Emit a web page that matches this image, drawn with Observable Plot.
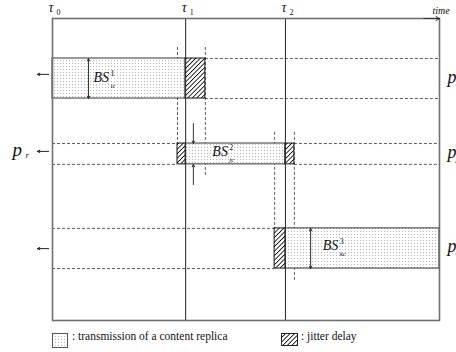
<!DOCTYPE html>
<html>
<head>
<meta charset="utf-8">
<script src="https://cdn.jsdelivr.net/npm/d3@7"></script>
<script src="https://cdn.jsdelivr.net/npm/@observablehq/plot@0.6"></script>
<style>
  body { margin: 0; background: #fff; overflow: hidden; }
  #wrap { position: relative; width: 456px; height: 352px; font-family: "Liberation Serif", "Times New Roman", serif; color: #111; }
  .sw { position: absolute; top: 333px; }
  .lt { position: absolute; top: 331px; font-size: 11.5px; line-height: 1; white-space: nowrap; }
</style>
</head>
<body>
<svg width="0" height="0" style="position:absolute">
  <defs>
    <pattern id="dots" width="3" height="3" patternUnits="userSpaceOnUse">
      <rect width="3" height="3" fill="#fff"/>
      <rect width="1" height="1" fill="#b4b4b4"/>
    </pattern>
    <pattern id="hatch" width="3.2" height="3.2" patternUnits="userSpaceOnUse" patternTransform="rotate(45)">
      <rect width="3.2" height="3.2" fill="#fff"/>
      <line x1="0" y1="0" x2="0" y2="3.2" stroke="#000" stroke-width="1.6"/>
    </pattern>
  </defs>
</svg>
<div id="wrap">
  <svg class="sw" style="left:52px" width="16" height="15"><rect x="0.5" y="0.5" width="15" height="14" fill="url(#dots)" stroke="#555"/></svg>
  <div class="lt" style="left:72px">: transmission of a content replica</div>
  <svg class="sw" style="left:281px" width="17" height="13"><rect x="0.5" y="0.5" width="16" height="12" fill="url(#hatch)" stroke="#222"/></svg>
  <div class="lt" style="left:301px">: jitter delay</div>
</div>
<script>
// Time axis: 0–100 across the frame; rows: 0–100 down the frame.
const tauTimes = [0, 34.4, 60.2];
const tauNames = ["0", "1", "2"];

// Three delivery paths (one band per row)
const rowTop = [13.25, 41.4, 69.5];
const rowBottom = [26.5, 48.3, 82.8];
const rowArrowY = [18.5, 44.0, 76.2];
const peerSup = ["1", "2", "3"];
const peerSub = ["i", "j", "k"];

// Transmission of a content replica on each path
const txStart = [0, 34.4, 60.2];
const txEnd = [34.4, 60.2, 100];

// Jitter delay intervals
const jitRow = [0, 1, 1, 2];
const jitStart = [34.4, 32.3, 60.2, 57.4];
const jitEnd = [39.5, 34.4, 62.5, 60.2];

// Dashed horizontal guides that continue each band
const guideRow = [0, 1, 1, 2];
const guideStart = [39.5, 0, 62.5, 0];
const guideEnd = [100, 32.3, 100, 57.4];

// Dashed vertical guides bounding the jitter windows
const vGuideX = [32.3, 39.5, 57.4, 62.5];
const vGuideTop = [9.6, 9.6, 37.7, 37.7];
const vGuideBottom = [41.4, 52.6, 69.5, 87.1];

// Buffer-size arrows and labels
const sizeArrowX = [9.3, 9.3, 36.4, 36.4, 66.7, 66.7];
const sizeArrowFrom = [19.9, 19.9, 34.8, 55.0, 76.2, 76.2];
const sizeArrowTo = [13.25, 26.5, 41.4, 48.3, 69.5, 82.8];
const bsLabelX = [10.6, 41.3, 69.8];
const bsLabelY = [20.9, 45.4, 76.8];
const bsSup = ["1", "2", "3"];
const bsSub = ["ic", "jc", "kc"];

const serif = "Liberation Serif";

const tx = txStart.map((s, i) => ({x1: s, x2: txEnd[i], y1: rowTop[i], y2: rowBottom[i]}));
const jit = jitRow.map((r, i) => ({x1: jitStart[i], x2: jitEnd[i], y1: rowTop[r], y2: rowBottom[r]}));
const hGuides = guideRow.flatMap((r, i) => [rowTop[r], rowBottom[r]].map(y => ({y, x1: guideStart[i], x2: guideEnd[i]})));
const vGuides = vGuideX.map((x, i) => ({x, y1: vGuideTop[i], y2: vGuideBottom[i]}));
const sizeArrows = sizeArrowX.map((x, i) => ({x, y1: sizeArrowFrom[i], y2: sizeArrowTo[i]}));
const bs = bsLabelX.map((x, i) => ({x, y: bsLabelY[i], sup: bsSup[i], sub: bsSub[i]}));
const taus = tauTimes.map((t, i) => ({t, name: tauNames[i]}));
const peers = rowArrowY.map((y, i) => ({y, c: (rowTop[i] + rowBottom[i]) / 2, sup: peerSup[i], sub: peerSub[i]}));

const chart = Plot.plot({
  width: 456,
  height: 326,
  marginLeft: 52,
  marginRight: 17,
  marginTop: 18,
  marginBottom: 6,
  x: {domain: [0, 100], axis: null},
  y: {domain: [0, 100], reverse: true, axis: null},
  marks: [
    Plot.ruleY(hGuides, {y: "y", x1: "x1", x2: "x2", stroke: "#333", strokeWidth: 0.8, strokeDasharray: "3,2"}),
    Plot.ruleX(vGuides, {x: "x", y1: "y1", y2: "y2", stroke: "#333", strokeWidth: 0.8, strokeDasharray: "3,2"}),
    Plot.rect(tx, {x1: "x1", x2: "x2", y1: "y1", y2: "y2", fill: "url(#dots)", stroke: "#333", strokeWidth: 1}),
    Plot.rect(jit, {x1: "x1", x2: "x2", y1: "y1", y2: "y2", fill: "url(#hatch)", stroke: "#111", strokeWidth: 1}),
    Plot.ruleX(tauTimes.slice(1), {stroke: "#333", strokeWidth: 1.1}),
    Plot.frame({stroke: "#707070", strokeWidth: 1.6}),
    // time direction
    Plot.arrow([0], {x1: 96, x2: 100, y1: 0, y2: 0, stroke: "#333", strokeWidth: 1, headLength: 6}),
    Plot.text(["time"], {x: 100, y: 0, dx: -7, dy: -5, text: d => d, textAnchor: "start", lineAnchor: "bottom", fontSize: 10, fontStyle: "italic", fontFamily: serif}),
    // epoch labels
    Plot.text(taus, {x: "t", y: 0, text: () => "τ", dx: -4, dy: -7, textAnchor: "start", lineAnchor: "bottom", fontSize: 14, fontStyle: "italic", fontFamily: serif}),
    Plot.text(taus, {x: "t", y: 0, text: "name", dx: 4, dy: -4, textAnchor: "start", lineAnchor: "bottom", fontSize: 8, fontFamily: serif}),
    // request arrows from the receiver
    Plot.arrow(peers, {x1: -1, x2: -3.9, y1: "y", y2: "y", stroke: "#222", strokeWidth: 1, headLength: 4, headAngle: 50}),
    Plot.text(["p"], {x: 0, y: rowArrowY[1], dx: -40, dy: 5, text: d => d, textAnchor: "start", lineAnchor: "bottom", fontSize: 19, fontStyle: "italic", fontFamily: serif}),
    Plot.text(["r"], {x: 0, y: rowArrowY[1], dx: -27, dy: 7, text: d => d, textAnchor: "start", lineAnchor: "bottom", fontSize: 9, fontStyle: "italic", fontFamily: serif}),
    // sending peers
    Plot.text(peers, {x: 100, y: "c", dx: 8, dy: 4, text: () => "p", textAnchor: "start", lineAnchor: "bottom", fontSize: 18, fontStyle: "italic", fontFamily: serif}),
    Plot.text(peers, {x: 100, y: "c", dx: 16, dy: -4, text: "sup", textAnchor: "start", lineAnchor: "bottom", fontSize: 8, fontFamily: serif}),
    Plot.text(peers, {x: 100, y: "c", dx: 16, dy: 7, text: "sub", textAnchor: "start", lineAnchor: "bottom", fontSize: 8, fontStyle: "italic", fontFamily: serif}),
    // buffer sizes
    Plot.arrow(sizeArrows, {x1: "x", x2: "x", y1: "y1", y2: "y2", stroke: "#333", strokeWidth: 1, headLength: 4, headAngle: 50}),
    Plot.text(bs, {x: "x", y: "y", text: () => "BS", textAnchor: "start", lineAnchor: "bottom", fontSize: 14, fontStyle: "italic", fontFamily: serif}),
    Plot.text(bs, {x: "x", y: "y", text: "sup", dx: 17, dy: -6, textAnchor: "start", lineAnchor: "bottom", fontSize: 8, fontFamily: serif}),
    Plot.text(bs, {x: "x", y: "y", text: "sub", dx: 17, dy: 6, textAnchor: "start", lineAnchor: "bottom", fontSize: 7, fontStyle: "italic", fontFamily: serif})
  ]
});
document.getElementById("wrap").prepend(chart);
</script>
</body>
</html>
